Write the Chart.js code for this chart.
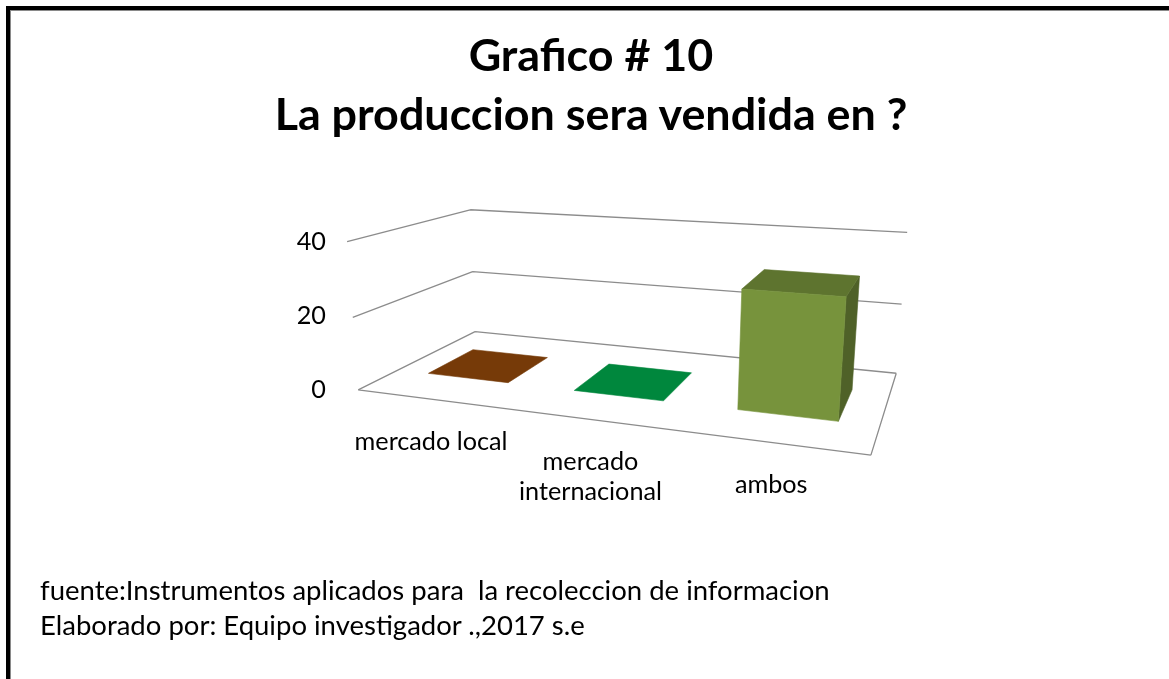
<!DOCTYPE html>
<html>
<head>
<meta charset="utf-8">
<script src="https://cdn.jsdelivr.net/npm/chart.js@4.4.1/dist/chart.umd.min.js"></script>
<style>
  html, body { margin:0; padding:0; background:#fff; width:1169px; height:679px; overflow:hidden; }
  body { position:relative; font-family: Lato, "Liberation Sans", sans-serif; color:#000; }
  #frameBlack { position:absolute; left:6px; top:6px; right:0; bottom:0; border-left:4px solid #000; border-top:4px solid #000; }
  #frameGray { position:absolute; left:10px; top:10px; right:0; bottom:0; border-left:1px solid #8a8a8a; border-top:1px solid #8a8a8a; }
  .tline { position:absolute; left:0; width:1182px; text-align:center; font-weight:bold; white-space:pre; line-height:1.2; }
  .fline { position:absolute; left:40px; white-space:pre; line-height:1.2; }
  canvas { position:absolute; left:0; top:0; }
</style>
</head>
<body>
<canvas id="c" width="1169" height="679"></canvas>
<div id="frameBlack"></div>
<div id="frameGray"></div>
<div class="tline" id="t1">Grafico # 10</div>
<div class="tline" id="t2">La produccion sera vendida en ?</div>
<div class="fline" id="f1">fuente:Instrumentos aplicados para  la recoleccion de informacion</div>
<div class="fline" id="f2">Elaborado por: Equipo investigador .,2017 s.e</div>
<script>
// ---------------- data ----------------
const categories = ['mercado local', 'mercado internacional', 'ambos'];
const categoryLines = [['mercado local'], ['mercado', 'internacional'], ['ambos']];
const values = [0, 0, 31];
const yMin = 0;
const yMax = 40;
const yStep = 20;

// ---------------- styles ----------------
const barColors = ['#763A08', '#00873D', '#77933C'];
const FONT = 'Lato, "Liberation Sans", sans-serif';
const gridColor = '#8c8c8c';

// measure helper to size text like the reference
const mctx = document.createElement('canvas').getContext('2d');
function fitSize(text, target, weight) {
  mctx.font = (weight || '') + ' 100px ' + FONT;
  return 100 * target / mctx.measureText(text).width;
}
const ASC = 0.987;
function placeLine(id, baseline, size) {
  const el = document.getElementById(id);
  el.style.fontSize = size + 'px';
  el.style.top = (baseline - ASC * size) + 'px';
}
const titleSize = fitSize('La produccion sera vendida en ?', 634, 'bold');
placeLine('t1', 72, titleSize);
placeLine('t2', 131, titleSize);
const footSize = fitSize('fuente:Instrumentos aplicados para  la recoleccion de informacion', 790, '');
placeLine('f1', 600, footSize);
placeLine('f2', 635, footSize);
const labelSize = fitSize('internacional', 143, '');

// --------- perspective frame (layout of the 3D box) ---------
// [X (0..1 across categories), Y (0..1 of value axis), Z (0 front .. 1 back), screenX, screenY]
const FRAME_PTS = [
  [0, 0, 0, 358, 390], [0, 0.5, 0, 353, 317], [0, 1, 0, 347, 242],
  [0, 0, 1, 475, 332], [0, 0.5, 1, 473, 271], [0, 1, 1, 470, 210],
  [1, 0, 1, 896, 373], [1, 0.5, 1, 902, 305], [1, 1, 1, 907, 232],
  [1, 0, 0, 871, 455]
];
const BAR_DEPTH = [0.3, 0.7];

function fitProjection(pts) {
  const A = [], b = [];
  for (const [X, Y, Z, u, v] of pts) {
    A.push([X, Y, Z, 1, 0, 0, 0, 0, -u * X, -u * Y, -u * Z]); b.push(u);
    A.push([0, 0, 0, 0, X, Y, Z, 1, -v * X, -v * Y, -v * Z]); b.push(v);
  }
  const n = 11;
  const M = Array.from({length: n}, () => new Array(n + 1).fill(0));
  for (let r = 0; r < A.length; r++) {
    for (let i = 0; i < n; i++) {
      for (let j = 0; j < n; j++) M[i][j] += A[r][i] * A[r][j];
      M[i][n] += A[r][i] * b[r];
    }
  }
  for (let c = 0; c < n; c++) {
    let p = c;
    for (let r = c + 1; r < n; r++) if (Math.abs(M[r][c]) > Math.abs(M[p][c])) p = r;
    const tmp = M[c]; M[c] = M[p]; M[p] = tmp;
    for (let r = 0; r < n; r++) {
      if (r === c) continue;
      const f = M[r][c] / M[c][c];
      for (let j = c; j <= n; j++) M[r][j] -= f * M[c][j];
    }
  }
  const P = M.map((row, i) => row[n] / row[i]);
  return (X, Y, Z) => {
    const w = P[8] * X + P[9] * Y + P[10] * Z + 1;
    return [(P[0] * X + P[1] * Y + P[2] * Z + P[3]) / w, (P[4] * X + P[5] * Y + P[6] * Z + P[7]) / w];
  };
}
const project = fitProjection(FRAME_PTS);

function shade(hex, k) {
  const n = parseInt(hex.slice(1), 16);
  const r = Math.round(((n >> 16) & 255) * k), g = Math.round(((n >> 8) & 255) * k), bl = Math.round((n & 255) * k);
  return 'rgb(' + r + ',' + g + ',' + bl + ')';
}
function poly(ctx, pts, fill) {
  ctx.beginPath();
  pts.forEach((p, i) => { const q = project(p[0], p[1], p[2]); i ? ctx.lineTo(q[0], q[1]) : ctx.moveTo(q[0], q[1]); });
  ctx.closePath();
  ctx.fillStyle = fill; ctx.fill();
  ctx.strokeStyle = fill; ctx.lineWidth = 0.6; ctx.stroke();
}
function line(ctx, a, b) {
  const p = project(a[0], a[1], a[2]), q = project(b[0], b[1], b[2]);
  ctx.moveTo(p[0], p[1]); ctx.lineTo(q[0], q[1]);
}

const threeD = {
  id: 'threeD',
  beforeDatasetsDraw(chart) {
    const ctx = chart.ctx, ca = chart.chartArea, ys = chart.scales.y;
    ctx.save();
    ctx.strokeStyle = gridColor; ctx.lineWidth = 1.3;
    ys.ticks.forEach(t => {
      const Yf = (ca.bottom - ys.getPixelForValue(t.value)) / (ca.bottom - ca.top);
      ctx.beginPath();
      if (Yf <= 0.0001) {
        line(ctx, [0, 0, 0], [0, 0, 1]);
        line(ctx, [0, 0, 1], [1, 0, 1]);
        line(ctx, [1, 0, 1], [1, 0, 0]);
        line(ctx, [1, 0, 0], [0, 0, 0]);
      } else {
        line(ctx, [0, Yf, 0], [0, Yf, 1]);
        line(ctx, [0, Yf, 1], [1, Yf, 1]);
      }
      ctx.stroke();
    });
    ctx.restore();
  },
  afterDatasetsDraw(chart) {
    const ctx = chart.ctx, ca = chart.chartArea;
    const meta = chart.getDatasetMeta(0);
    const [zf, zb] = BAR_DEPTH;
    ctx.save();
    meta.data.forEach((el, i) => {
      const p = el.getProps(['x', 'y', 'base', 'width'], true);
      const X0 = (p.x - p.width / 2 - ca.left) / ca.width;
      const X1 = (p.x + p.width / 2 - ca.left) / ca.width;
      const Y = (p.base - p.y) / (ca.bottom - ca.top);
      const col = barColors[i % barColors.length];
      if (Y > 0.001) {
        poly(ctx, [[X1, 0, zf], [X1, 0, zb], [X1, Y, zb], [X1, Y, zf]], shade(col, 0.66));
        poly(ctx, [[X0, Y, zf], [X1, Y, zf], [X1, Y, zb], [X0, Y, zb]], shade(col, 0.79));
        poly(ctx, [[X0, 0, zf], [X1, 0, zf], [X1, Y, zf], [X0, Y, zf]], col);
      } else {
        poly(ctx, [[X0, 0, zf], [X1, 0, zf], [X1, 0, zb], [X0, 0, zb]], col);
      }
    });
    ctx.restore();
  },
  afterDraw(chart) {
    const ctx = chart.ctx, xs = chart.scales.x, ca = chart.chartArea;
    ctx.save();
    ctx.fillStyle = '#000';
    ctx.font = labelSize + 'px ' + FONT;
    ctx.textAlign = 'center';
    ctx.textBaseline = 'alphabetic';
    categoryLines.forEach((lines, i) => {
      const Xc = (xs.getPixelForValue(i) - ca.left) / ca.width;
      const a = project(Xc, 0, 0);
      lines.forEach((t, k) => ctx.fillText(t, a[0], a[1] + 51 + k * 30));
    });
    ctx.restore();
  }
};

new Chart(document.getElementById('c').getContext('2d'), {
  type: 'bar',
  data: {
    labels: categories,
    datasets: [{
      data: values,
      backgroundColor: 'rgba(0,0,0,0)',
      borderWidth: 0,
      categoryPercentage: 1,
      barPercentage: 0.56
    }]
  },
  options: {
    responsive: false,
    animation: false,
    events: [],
    layout: { padding: { left: 0, right: 317, top: 242, bottom: 289 } },
    plugins: { legend: { display: false }, tooltip: { enabled: false }, title: { display: false } },
    scales: {
      x: { display: false },
      y: {
        min: yMin, max: yMax,
        ticks: { stepSize: yStep, padding: 15, color: '#000', font: { family: FONT, size: labelSize } },
        grid: { display: false, drawTicks: false },
        border: { display: false },
        afterFit(s) { s.width = 341; }
      }
    }
  },
  plugins: [threeD]
});
</script>
</body>
</html>
